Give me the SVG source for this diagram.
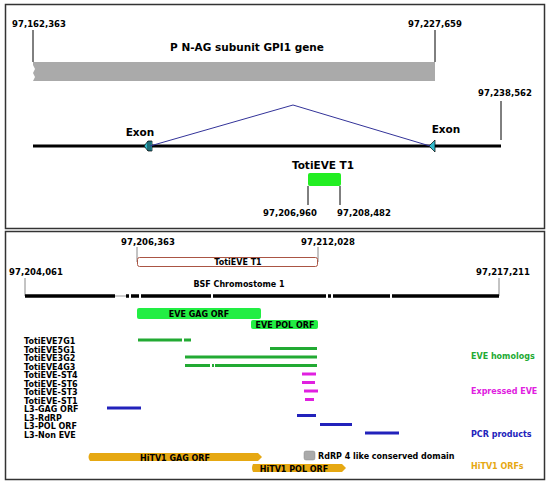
<svg xmlns="http://www.w3.org/2000/svg" width="550" height="483" viewBox="0 0 550 483">
<style>
text{font-family:"DejaVu Sans",sans-serif;font-weight:bold;fill:#000}
.n{font-size:8.5px}
.t{font-size:10.5px}
.l{font-size:8px}
.tick{stroke:#000;stroke-width:1}
.gt{stroke:#888;stroke-width:1}
.gh{stroke:#22aa33;stroke-width:3}
.mg{stroke:#e020e0;stroke-width:3}
.bl{stroke:#2222bb;stroke-width:3}
</style>
<rect x="5.5" y="4.5" width="539" height="224" fill="#fff" stroke="#333" stroke-width="1.5"/>
<rect x="5.5" y="231.5" width="539" height="248" fill="#fff" stroke="#333" stroke-width="1.5"/>

<g id="gene">
<path d="M33,62 H435 V81 H33 L35,77 L33,73 L35,69 L33,65 Z" fill="#aaaaaa"/>
<text class="t" x="247" y="51" text-anchor="middle">P N-AG subunit GPI1 gene</text>
</g>
<g id="pos1"><line class="tick" x1="33" y1="30" x2="33" y2="62"/><text class="n" x="39" y="27" text-anchor="middle">97,162,363</text></g>
<g id="pos2"><line class="tick" x1="435" y1="30" x2="435" y2="62"/><text class="n" x="435" y="27" text-anchor="middle">97,227,659</text></g>
<g id="pos3"><line class="tick" x1="501" y1="101" x2="501" y2="140"/><text class="n" x="505" y="96" text-anchor="middle">97,238,562</text></g>
<g id="genome"><line x1="33" y1="146" x2="501" y2="146" stroke="#000" stroke-width="3"/></g>
<g id="exon1">
<path d="M144,146 L148,141 L152,141 L152,151 L148,151 Z" fill="#33bbcc" stroke="#000" stroke-width="0.7"/>
<line x1="148" y1="141" x2="148" y2="151" stroke="#000" stroke-width="0.8"/>
<line x1="150" y1="141" x2="150" y2="151" stroke="#000" stroke-width="0.8"/>
<text class="t" x="140" y="136" text-anchor="middle">Exon</text>
</g>
<g id="exon2">
<path d="M429,146 L435,140 L435,152 Z" fill="#33bbcc" stroke="#000" stroke-width="0.7"/>
<text class="t" x="446" y="133" text-anchor="middle">Exon</text>
</g>
<g id="toti1">
<text class="t" x="323" y="169" text-anchor="middle">TotiEVE T1</text>
<rect x="308" y="173" width="33" height="13" rx="2" fill="#22ee22"/>
<line class="tick" x1="308" y1="186" x2="308" y2="205"/>
<line class="tick" x1="340" y1="186" x2="340" y2="205"/>
<text class="n" x="290" y="216" text-anchor="middle">97,206,960</text>
<text class="n" x="364" y="216" text-anchor="middle">97,208,482</text>
</g>
<g id="connectors">
<polyline points="150,146 293,105 430,146" fill="none" stroke="#333399" stroke-width="1"/>
</g>

<g id="totiT1box">
<line class="gt" x1="137" y1="247" x2="137" y2="262"/>
<line class="gt" x1="318" y1="247" x2="318" y2="262"/>
<text class="n" x="148" y="245" text-anchor="middle">97,206,363</text>
<text class="n" x="328" y="245" text-anchor="middle">97,212,028</text>
<rect x="137.5" y="257.5" width="180" height="9" rx="2" fill="#fff" stroke="#aa5544" stroke-width="1"/>
<text class="l" x="238" y="265" text-anchor="middle">TotiEVE T1</text>
</g>
<g id="chrom">
<line class="gt" x1="25" y1="278" x2="25" y2="296"/>
<line class="gt" x1="499" y1="278" x2="499" y2="296"/>
<text class="n" x="36" y="275" text-anchor="middle">97,204,061</text>
<text class="n" x="503" y="275" text-anchor="middle">97,217,211</text>
<text class="l" x="239" y="287" text-anchor="middle">BSF Chromostome 1</text>
<line x1="115" y1="296" x2="126" y2="296" stroke="#999" stroke-width="1"/>
<g stroke="#000" stroke-width="3.5">
<line x1="25" y1="296" x2="115" y2="296"/>
<line x1="126" y1="296" x2="129" y2="296"/>
<line x1="131" y1="296" x2="139" y2="296"/>
<line x1="141" y1="296" x2="211" y2="296"/>
<line x1="213" y1="296" x2="326" y2="296"/>
<line x1="328" y1="296" x2="331" y2="296"/>
<line x1="333" y1="296" x2="390" y2="296"/>
<line x1="392" y1="296" x2="499" y2="296"/>
</g>
</g>
<g id="gagorf"><rect x="137" y="308" width="124" height="11" rx="2" fill="#22ee44"/><text class="l" x="199" y="317" text-anchor="middle">EVE GAG ORF</text></g>
<g id="polorf"><rect x="251" y="320" width="67" height="9" rx="2" fill="#22ee44"/><text class="l" x="285" y="328" text-anchor="middle">EVE POL ORF</text></g>

<g id="labels">
<text class="l" x="24" y="344">TotiEVE7G1</text>
<text class="l" x="24" y="352.5">TotiEVE5G1</text>
<text class="l" x="24" y="361">TotiEVE3G2</text>
<text class="l" x="24" y="369.5">TotiEVE4G3</text>
<text class="l" x="24" y="378">TotiEVE-ST4</text>
<text class="l" x="24" y="386.5">TotiEVE-ST6</text>
<text class="l" x="24" y="395">TotiEVE-ST3</text>
<text class="l" x="24" y="403.5">TotiEVE-ST1</text>
<text class="l" x="24" y="412">L3-GAG ORF</text>
<text class="l" x="24" y="420.5">L3-RdRP</text>
<text class="l" x="24" y="429">L3-POL ORF</text>
<text class="l" x="24" y="437.5">L3-Non EVE</text>
</g>
<g id="homologs">
<line class="gh" x1="138" y1="340" x2="182" y2="340"/>
<line class="gh" x1="184" y1="340" x2="191" y2="340"/>
<line class="gh" x1="270" y1="348.5" x2="317" y2="348.5"/>
<line class="gh" x1="185" y1="357" x2="317" y2="357"/>
<line class="gh" x1="185" y1="365.5" x2="210" y2="365.5"/>
<line class="gh" x1="212" y1="365.5" x2="214" y2="365.5"/>
<line class="gh" x1="215" y1="365.5" x2="317" y2="365.5"/>
<text class="l" x="471" y="359" style="fill:#22aa33">EVE homologs</text>
</g>
<g id="expressed">
<line class="mg" x1="302" y1="374" x2="316" y2="374"/>
<line class="mg" x1="302" y1="382.5" x2="315" y2="382.5"/>
<line class="mg" x1="304" y1="391" x2="318" y2="391"/>
<line class="mg" x1="305" y1="399.5" x2="314" y2="399.5"/>
<text class="l" x="471" y="394" style="fill:#e020e0">Expressed EVE</text>
</g>
<g id="pcr">
<line class="bl" x1="107" y1="408" x2="141" y2="408"/>
<line class="bl" x1="297" y1="415.5" x2="316" y2="415.5"/>
<line class="bl" x1="320" y1="424.5" x2="352" y2="424.5"/>
<line class="bl" x1="365" y1="433" x2="399" y2="433"/>
<text class="l" x="471" y="437" style="fill:#2222bb">PCR products</text>
</g>
<g id="legend">
<rect x="304" y="451" width="11" height="9" rx="2" fill="#aaaaaa" stroke="#888" stroke-width="0.5"/>
<text class="l" x="318" y="458.5">RdRP 4 like conserved domain</text>
</g>
<g id="hitv">
<path d="M90,453 H258 L262,457 L258,461 H90 Q87,457 90,453 Z" fill="#e6a812"/>
<text class="l" x="175" y="460.5" text-anchor="middle">HiTV1 GAG ORF</text>
<path d="M253,464 H342 L346,468 L342,472 H253 Q251,468 253,464 Z" fill="#e6a812"/>
<text class="l" x="294" y="471.5" text-anchor="middle">HiTV1 POL ORF</text>
<text class="l" x="471" y="469" style="fill:#e6a812">HiTV1 ORFs</text>
</g>
</svg>
